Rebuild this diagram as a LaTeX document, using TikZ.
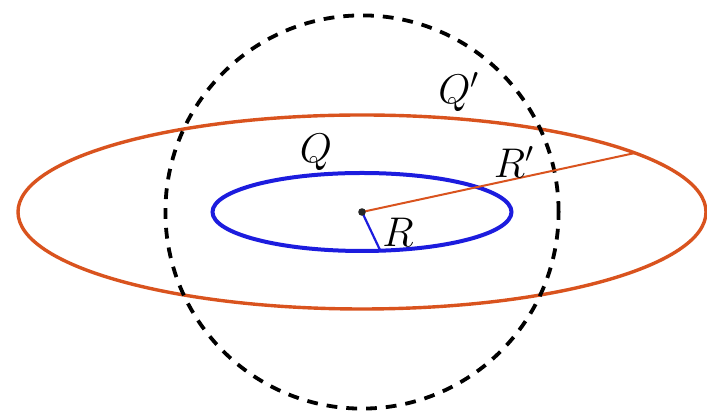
\documentclass[tikz,border=0pt]{standalone}
\definecolor{orng}{RGB}{217,83,30}
\definecolor{blu}{RGB}{28,28,222}
\begin{document}
\begin{tikzpicture}[x=0.5pt,y=-0.5pt,
  lbl/.style={inner sep=0pt,font=\fontsize{20}{24}\selectfont},
  orangecurve/.style={draw=orng,line width=1.7pt},
  bluecurve/.style={draw=blu,line width=2pt},
  dashcircle/.style={draw=black,line width=1.9pt,dash pattern=on 5.4pt off 4.5pt}]
\useasboundingbox (0,0) rectangle (707,415);
\coordinate (O) at (362,212);
\coordinate (Pp) at (635,153);
\coordinate (P) at (380,250);
% outer orange ellipse
\draw[orangecurve] (O) ellipse [x radius=172pt, y radius=48.5pt];
% dashed circle
\draw[dashcircle] (O) circle [radius=98.3pt];
% inner blue ellipse
\draw[bluecurve] (O) ellipse [x radius=74.75pt, y radius=19.5pt];
% radii
\draw[draw=orng,line width=1pt] (O) -- (Pp);
\draw[draw=blu,line width=1.1pt] (O) -- (P);
\fill[black!85] (O) circle [radius=1.9pt];
% labels
\node[lbl] (q) at (316,152) {$Q$};
\node[lbl] (qp) at (459,92) {$Q'$};
\node[lbl] (rp) at (514,162) {$R'$};
\node[lbl] (r) at (398,232) {$R$};
\end{tikzpicture}
\end{document}
